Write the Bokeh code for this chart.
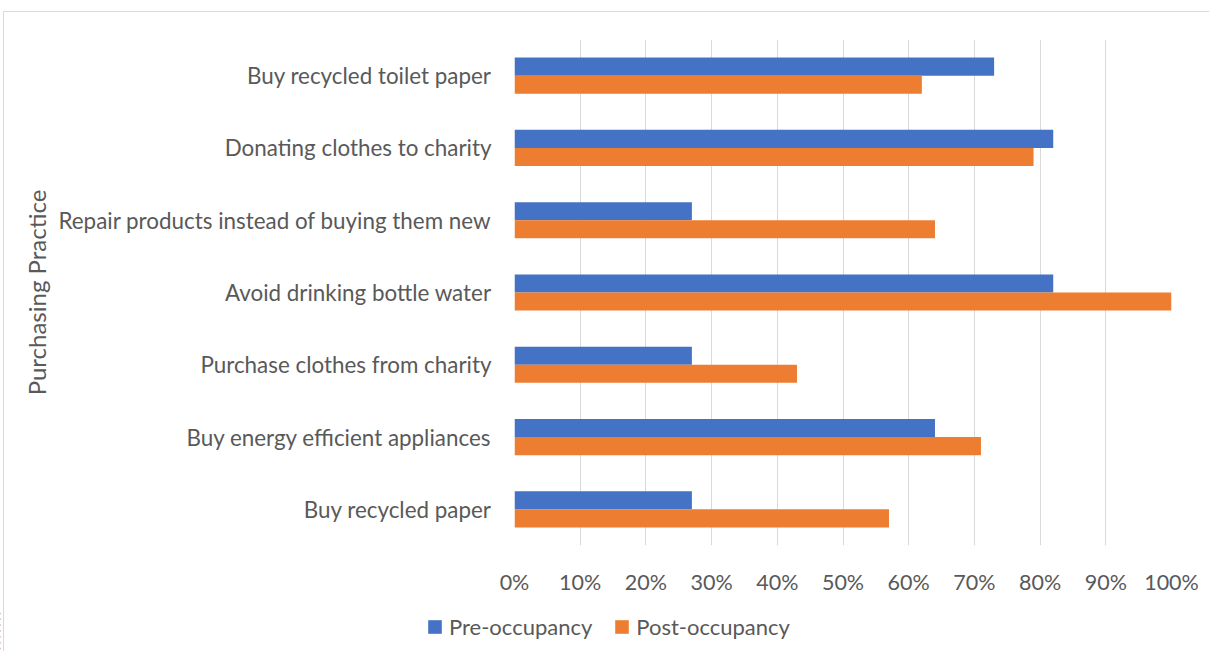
from bokeh.plotting import figure
from bokeh.models import (FactorRange, Range1d, FixedTicker, NumeralTickFormatter,
                          Legend, LegendItem, ColumnDataSource)
from bokeh.transform import dodge
from bokeh.embed import file_html
from bokeh.resources import INLINE

categories = [
    "Buy recycled toilet paper",
    "Donating clothes to charity",
    "Repair products instead of buying them new",
    "Avoid drinking bottle water",
    "Purchase clothes from charity",
    "Buy energy efficient appliances",
    "Buy recycled paper",
]
pre_occupancy = [0.73, 0.82, 0.27, 0.82, 0.27, 0.64, 0.27]
post_occupancy = [0.62, 0.79, 0.64, 1.00, 0.43, 0.71, 0.57]
x_ticks = [0, 0.1, 0.2, 0.3, 0.4, 0.5, 0.6, 0.7, 0.8, 0.9, 1.0]
series_names = ["Pre-occupancy", "Post-occupancy"]
series_fields = ["pre", "post"]
series_colors = ["#4472C4", "#ED7D31"]

FONT = "Lato"
GREY = "#595959"

source = ColumnDataSource(dict(cat=categories, pre=pre_occupancy, post=post_occupancy))

p = figure(width=1209, height=610, output_backend="svg", toolbar_location=None,
           y_range=FactorRange(factors=list(reversed(categories)), range_padding=0),
           x_range=Range1d(0, 1),
           min_border_left=514, min_border_right=38, min_border_top=39, min_border_bottom=65)
p.outline_line_color = None

p.hbar(y=dodge("cat", 0.125, range=p.y_range), right="pre", left=0, height=0.25,
       source=source, fill_color=series_colors[0], line_color=None)
p.hbar(y=dodge("cat", -0.125, range=p.y_range), right="post", left=0, height=0.25,
       source=source, fill_color=series_colors[1], line_color=None)

p.xaxis.ticker = FixedTicker(ticks=x_ticks)
p.xaxis.formatter = NumeralTickFormatter(format="0%")
p.xaxis.axis_line_color = None
p.xaxis.major_tick_line_color = None
p.xaxis.minor_tick_line_color = None
p.xaxis.major_label_standoff = 17
p.xaxis.major_label_text_font = FONT
p.xaxis.major_label_text_font_size = "21.5px"
p.xaxis.major_label_text_color = GREY

p.yaxis.axis_line_color = None
p.yaxis.major_tick_line_color = None
p.yaxis.minor_tick_line_color = None
p.yaxis.major_label_standoff = 17
p.yaxis.major_label_text_font = FONT
p.yaxis.major_label_text_font_size = "22.4px"
p.yaxis.major_label_text_color = GREY
p.yaxis.axis_label = "Purchasing Practice"
p.yaxis.axis_label_text_font = FONT
p.yaxis.axis_label_text_font_size = "24px"
p.yaxis.axis_label_text_font_style = "normal"
p.yaxis.axis_label_text_color = GREY
p.yaxis.axis_label_standoff = 4

p.xgrid.grid_line_color = "#d9d9d9"
p.xgrid.grid_line_width = 1
p.ygrid.grid_line_color = None

# legend strip below the chart (separate root so its frame spans the full width)
leg = figure(width=1209, height=41, output_backend="svg", toolbar_location=None,
             x_range=Range1d(5, 6), y_range=FactorRange(factors=list(reversed(categories))),
             min_border=0, min_border_left=0, min_border_right=0,
             min_border_top=0, min_border_bottom=0)
leg.outline_line_color = None
leg.axis.visible = False
leg.grid.visible = False
items = []
for name, field, col in zip(series_names, series_fields, series_colors):
    r = leg.hbar(y="cat", right=field, left=0, height=0.25, source=source,
                 fill_color=col, line_color=None)
    items.append(LegendItem(label=name, renderers=[r]))
legend = Legend(items=items, orientation="horizontal", location=(426, 11))
legend.border_line_color = None
legend.background_fill_alpha = 0
legend.label_text_font = FONT
legend.label_text_font_size = "22px"
legend.label_text_color = GREY
legend.glyph_width = 17
legend.glyph_height = 17
legend.spacing = 21
legend.label_standoff = 6
legend.padding = 0
legend.margin = 0
leg.add_layout(legend)

html = file_html([p, leg], INLINE)
frame_div = ('<div style="position:fixed;left:3px;top:11px;width:1400px;height:900px;'
             'border:1px solid #d9d9d9;pointer-events:none;z-index:10"></div>')
head_end = html.rfind("</head>")
body_pos = html.find("<body", head_end)
body_end = html.find(">", body_pos) + 1
html = html[:body_end] + frame_div + html[body_end:]
open("out.html", "w").write(html)
